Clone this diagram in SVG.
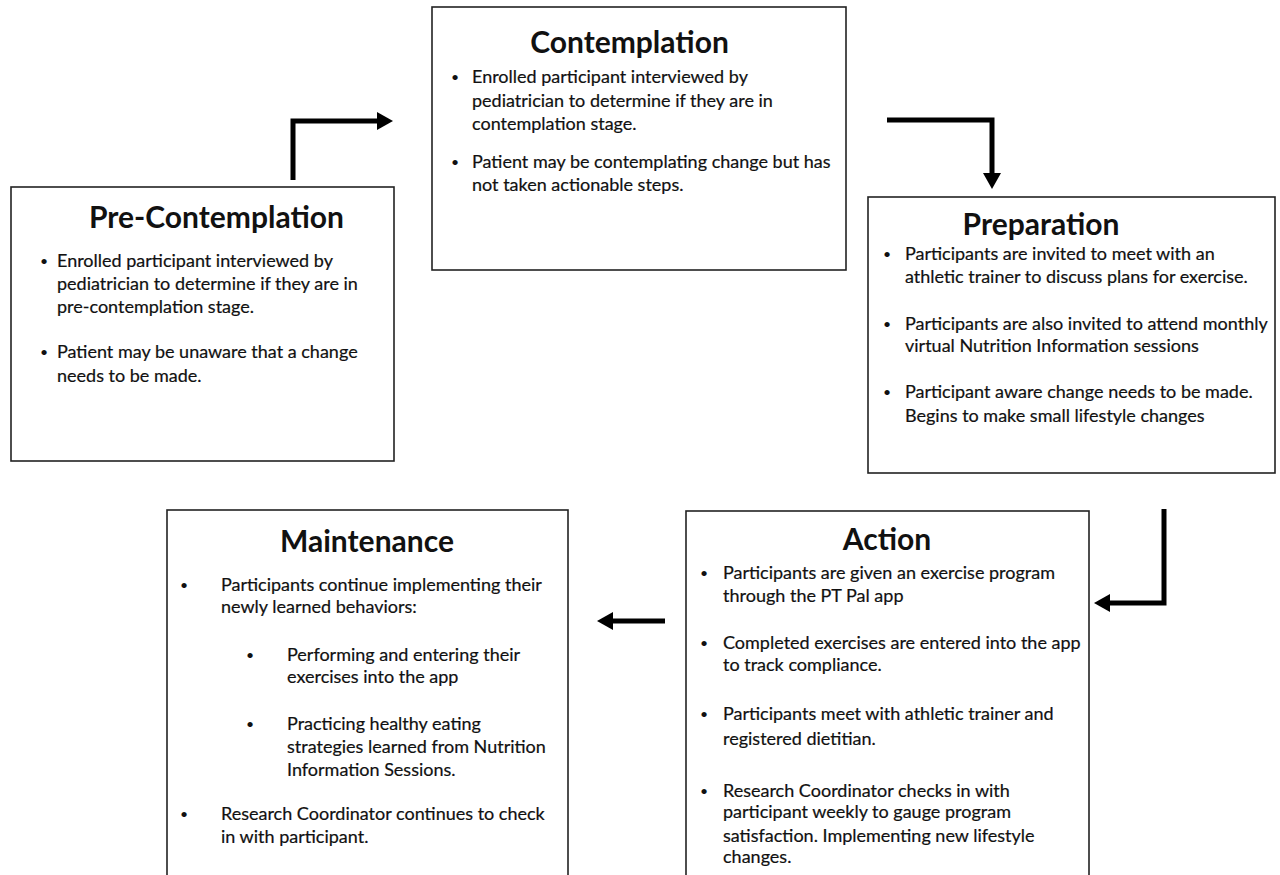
<svg xmlns="http://www.w3.org/2000/svg" width="1280" height="875" viewBox="0 0 1280 875">
<style>
.box{fill:#fff;stroke:#222;stroke-width:1.6}
.t{font-family:Lato,"Liberation Sans",sans-serif;font-weight:bold;font-size:30px;fill:#111}
.b{font-family:Lato,"Liberation Sans",sans-serif;font-size:18px;fill:#111;stroke:#111;stroke-width:0.2}
.d{font-family:Lato,"Liberation Sans",sans-serif;font-size:14px;fill:#111}
.arr{fill:none;stroke:#000;stroke-width:5;stroke-linejoin:miter}
</style>
<defs>
<marker id="ah" markerUnits="userSpaceOnUse" viewBox="0 0 16 18" markerWidth="16" markerHeight="18" refX="6" refY="9" orient="auto">
<path d="M0,0 L16,9 L0,18 Z" fill="#000"/>
</marker>
</defs>
<rect width="1280" height="875" fill="#fff"/>
<g id="connectors">
<path class="arr" d="M293,180 V121 H383" marker-end="url(#ah)"/>
<path class="arr" d="M887,120 H992 V179" marker-end="url(#ah)"/>
<path class="arr" d="M1164,509 V603 H1104" marker-end="url(#ah)"/>
<path class="arr" d="M665,621 H607" marker-end="url(#ah)"/>
</g>
<g id="pre-contemplation">
<rect class="box" x="11" y="187" width="383" height="274"/>
<text class="t" x="89" y="228">Pre-Contemplation</text>
<text class="d" x="40" y="266">•</text>
<text class="b" x="57" y="267">Enrolled participant interviewed by</text>
<text class="b" x="57" y="290">pediatrician to determine if they are in</text>
<text class="b" x="57" y="313">pre-contemplation stage.</text>
<text class="d" x="40" y="357">•</text>
<text class="b" x="57" y="358">Patient may be unaware that a change</text>
<text class="b" x="57" y="382">needs to be made.</text>
</g>
<g id="contemplation">
<rect class="box" x="432" y="7" width="414" height="263"/>
<text class="t" x="629.5" y="53" text-anchor="middle">Contemplation</text>
<text class="d" x="451" y="82">•</text>
<text class="b" x="472" y="83">Enrolled participant interviewed by</text>
<text class="b" x="472" y="107">pediatrician to determine if they are in</text>
<text class="b" x="472" y="130">contemplation stage.</text>
<text class="d" x="451" y="167">•</text>
<text class="b" x="472" y="168">Patient may be contemplating change but has</text>
<text class="b" x="472" y="191">not taken actionable steps.</text>
</g>
<g id="preparation">
<rect class="box" x="868" y="197" width="407" height="276"/>
<text class="t" x="1041" y="235" text-anchor="middle">Preparation</text>
<text class="d" x="883" y="259">•</text>
<text class="b" x="905" y="260">Participants are invited to meet with an</text>
<text class="b" x="905" y="283">athletic trainer to discuss plans for exercise.</text>
<text class="d" x="883" y="329">•</text>
<text class="b" x="905" y="330">Participants are also invited to attend monthly</text>
<text class="b" x="905" y="352">virtual Nutrition Information sessions</text>
<text class="d" x="883" y="397">•</text>
<text class="b" x="905" y="398">Participant aware change needs to be made.</text>
<text class="b" x="905" y="422">Begins to make small lifestyle changes</text>
</g>
<g id="action">
<rect class="box" x="686" y="511" width="403" height="380"/>
<text class="t" x="887" y="550" text-anchor="middle">Action</text>
<text class="d" x="700" y="578">•</text>
<text class="b" x="723" y="579">Participants are given an exercise program</text>
<text class="b" x="723" y="602">through the PT Pal app</text>
<text class="d" x="700" y="648">•</text>
<text class="b" x="723" y="649">Completed exercises are entered into the app</text>
<text class="b" x="723" y="671">to track compliance.</text>
<text class="d" x="700" y="719">•</text>
<text class="b" x="723" y="720">Participants meet with athletic trainer and</text>
<text class="b" x="723" y="745">registered dietitian.</text>
<text class="d" x="700" y="796">•</text>
<text class="b" x="723" y="797">Research Coordinator checks in with</text>
<text class="b" x="723" y="818">participant weekly to gauge program</text>
<text class="b" x="723" y="842">satisfaction. Implementing new lifestyle</text>
<text class="b" x="723" y="863">changes.</text>
</g>
<g id="maintenance">
<rect class="box" x="167" y="510" width="401" height="381"/>
<text class="t" x="367" y="552" text-anchor="middle">Maintenance</text>
<text class="d" x="180" y="590">•</text>
<text class="b" x="221" y="591">Participants continue implementing their</text>
<text class="b" x="221" y="613">newly learned behaviors:</text>
<text class="d" x="246" y="660">•</text>
<text class="b" x="287" y="661">Performing and entering their</text>
<text class="b" x="287" y="683">exercises into the app</text>
<text class="d" x="246" y="729">•</text>
<text class="b" x="287" y="730">Practicing healthy eating</text>
<text class="b" x="287" y="753">strategies learned from Nutrition</text>
<text class="b" x="287" y="776">Information Sessions.</text>
<text class="d" x="180" y="819">•</text>
<text class="b" x="221" y="820">Research Coordinator continues to check</text>
<text class="b" x="221" y="843">in with participant.</text>
</g>
</svg>
